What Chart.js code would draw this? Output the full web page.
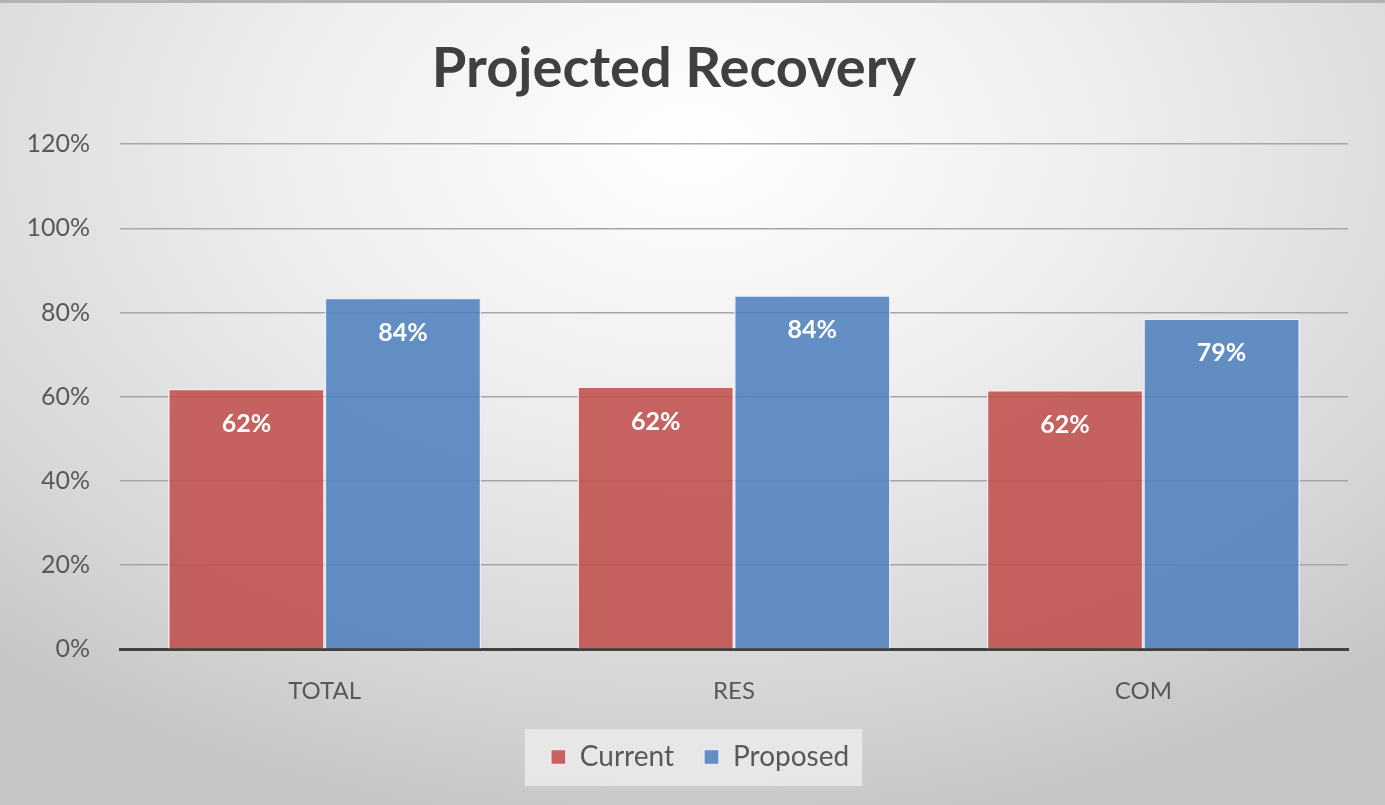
<!DOCTYPE html>
<html>
<head>
<meta charset="utf-8">
<script src="https://cdn.jsdelivr.net/npm/chart.js@4.4.1/dist/chart.umd.min.js"></script>
<style>
  html, body { margin:0; padding:0; }
  body {
    width:1385px; height:805px; overflow:hidden;
    background: radial-gradient(ellipse 75% 85% at 50% 18%, #ffffff 0%, #eeeeee 40%, #d6d6d6 80%, #c6c6c6 100%);
  }
  #wrap { position:absolute; left:0; top:0; width:1385px; height:805px; }
  #topbar { position:absolute; left:0; top:0; width:1385px; height:3px; background:#b4b4b4; }
</style>
</head>
<body>
<div id="topbar"></div>
<div id="wrap"><canvas id="c" width="1385" height="805"></canvas></div>
<script>
const categories = ["TOTAL", "RES", "COM"];
const currentValues = [0.619, 0.624, 0.616];
const proposedValues = [0.835, 0.841, 0.786];
const seriesNames = ["Current", "Proposed"];
const titleText = "Projected Recovery";

const FONT = "Lato, 'Open Sans', sans-serif";

const valueLabels = {
  id: 'valueLabels',
  afterDatasetsDraw(chart) {
    const ctx = chart.ctx;
    ctx.save();
    ctx.font = "bold 25px " + FONT;
    ctx.fillStyle = "#ffffff";
    ctx.textAlign = "center";
    ctx.textBaseline = "middle";
    chart.data.datasets.forEach((ds, i) => {
      chart.getDatasetMeta(i).data.forEach((bar, j) => {
        const v = ds.data[j];
        ctx.fillText(Math.round(v * 100) + "%", bar.x, bar.y + 35);
      });
    });
    ctx.restore();
  }
};

const legendShift = {
  id: 'legendShift',
  afterLayout(chart) {
    const lg = chart.legend;
    if (!lg) return;
    lg.left += 26; lg.right += 26;
  }
};

const legendBox = {
  id: 'legendBox',
  beforeDraw(chart) {
    const lg = chart.legend;
    if (!lg || !lg.legendHitBoxes || !lg.legendHitBoxes.length) return;
    let x0 = Infinity, y0 = Infinity, x1 = -Infinity, y1 = -Infinity;
    lg.legendHitBoxes.forEach(b => {
      x0 = Math.min(x0, b.left); y0 = Math.min(y0, b.top);
      x1 = Math.max(x1, b.left + b.width); y1 = Math.max(y1, b.top + b.height);
    });
    const ctx = chart.ctx;
    ctx.save();
    ctx.fillStyle = "rgba(235,235,235,0.85)";
    const cy = (y0 + y1) / 2;
    ctx.fillRect(x0 - 26, cy - 28, (x1 - x0) + 39, 57);
    ctx.restore();
  }
};

new Chart(document.getElementById('c'), {
  type: 'bar',
  data: {
    labels: categories,
    datasets: [
      { label: seriesNames[0], data: currentValues,
        backgroundColor: "rgba(192,80,77,0.88)", borderColor: "rgba(255,235,235,0.9)", borderWidth: 1.5 },
      { label: seriesNames[1], data: proposedValues,
        backgroundColor: "rgba(79,129,189,0.88)", borderColor: "rgba(230,240,255,0.9)", borderWidth: 1.5 }
    ]
  },
  plugins: [legendShift, valueLabels, legendBox],
  options: {
    responsive: false,
    animation: false,
    layout: { padding: { left: 0, right: 37, top: 0, bottom: 24 } },
    datasets: { bar: { categoryPercentage: 0.765, barPercentage: 1.0 } },
    plugins: {
      title: {
        display: true, text: titleText, color: "#404040",
        font: { family: FONT, size: 56, weight: "bold" },
        padding: { top: 35, bottom: 42 }
      },
      legend: {
        position: 'bottom',
        labels: {
          color: "#595959", font: { family: FONT, size: 28 },
          boxWidth: 15, boxHeight: 15, padding: 30, useBorderRadius: false
        }
      },
      tooltip: { enabled: false }
    },
    scales: {
      x: {
        afterFit(scale) { scale.height = scale.height - 21; },
        grid: { display: false, drawTicks: false },
        border: { display: true, color: "#404040", width: 3 },
        ticks: { color: "#595959", font: { family: FONT, size: 24 }, padding: 28 }
      },
      y: {
        min: 0, max: 1.2,
        afterFit(scale) { scale.width = 120; },
        grid: { color: "#a6a6a6", lineWidth: 1.5, drawTicks: false },
        border: { display: false },
        ticks: {
          stepSize: 0.2, color: "#595959", font: { family: FONT, size: 25 }, padding: 30,
          callback: v => Math.round(v * 100) + "%"
        }
      }
    }
  }
});
</script>
</body>
</html>
